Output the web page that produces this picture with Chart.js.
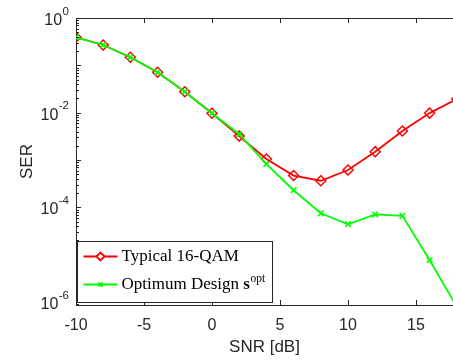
<!DOCTYPE html>
<html>
<head>
<meta charset="utf-8">
<script src="https://cdn.jsdelivr.net/npm/chart.js@4.4.1/dist/chart.umd.min.js"></script>
<style>
  body { margin: 0; background: #fff; }
</style>
</head>
<body>
<canvas id="chart" width="453" height="362"></canvas>
<script>
// values
const snrDb = [-10, -8, -6, -4, -2, 0, 2, 4, 6, 8, 10, 12, 14, 16, 18];
const serTypical = [0.391, 0.269, 0.148, 0.0713, 0.0277, 0.0097, 0.0032, 1.05e-3, 4.7e-4, 3.65e-4, 6.15e-4, 1.5e-3, 4.1e-3, 9.8e-3, 0.0195];
const serOptimum = [0.391, 0.269, 0.148, 0.0713, 0.0277, 0.0097, 0.0035, 8.2e-4, 2.3e-4, 7.5e-5, 4.4e-5, 7.1e-5, 6.6e-5, 7.7e-6, 7.9e-7];
const seriesLabels = ['Typical 16-QAM', 'Optimum Design '];
const xTickValues = [-10, -5, 0, 5, 10, 15];
const yTickExponents = [0, -2, -4, -6];

const axisColor = '#262626';
const sans = '"Liberation Sans", Arial, sans-serif';
const serif = '"Liberation Serif", "DejaVu Serif", serif';
const ctx = document.getElementById('chart').getContext('2d');

const toPoints = ys => snrDb.map((x, i) => ({ x: x, y: ys[i] }));

// inward ticks, top edge, superscript y labels and the boxed legend
const matlabAxes = {
    id: 'matlabAxes',
    afterDraw(chart) {
        const c = chart.ctx;
        const a = chart.chartArea;
        const xs = chart.scales.x;
        const ys = chart.scales.y;
        c.save();
        c.strokeStyle = axisColor;
        c.lineWidth = 1;
        c.beginPath();
        c.moveTo(a.left, a.top + 0.5);
        c.lineTo(a.right, a.top + 0.5);
        xTickValues.forEach(v => {
            const px = Math.round(xs.getPixelForValue(v)) + 0.5;
            c.moveTo(px, a.bottom); c.lineTo(px, a.bottom - 5);
            c.moveTo(px, a.top); c.lineTo(px, a.top + 5);
        });
        for (let e = -7; e <= 0; e++) {
            for (let m = 1; m <= 9; m++) {
                const v = m * Math.pow(10, e);
                if (v < ys.min || v > ys.max) continue;
                const py = Math.round(ys.getPixelForValue(v)) + 0.5;
                c.moveTo(a.left, py); c.lineTo(a.left + (m === 1 ? 5 : 3), py);
            }
        }
        c.stroke();

        // y tick labels 10^e
        c.fillStyle = axisColor;
        const right = a.left - 7;
        yTickExponents.forEach(e => {
            const py = ys.getPixelForValue(Math.pow(10, e));
            const ex = String(e);
            c.font = '11.5px ' + sans;
            const ew = c.measureText(ex).width;
            c.textBaseline = 'middle';
            c.textAlign = 'left';
            c.fillText(ex, right - ew, py - 6.5);
            c.font = '16px ' + sans;
            c.textAlign = 'right';
            c.fillText('10', right - ew - 0.5, py + 2.5);
        });

        // legend
        const bx = a.left + 1.5, bw = 195, bh = 61;
        const by = a.bottom - 3 - bh + 0.5;
        c.fillStyle = '#fff';
        c.fillRect(bx, by, bw, bh);
        c.strokeStyle = axisColor;
        c.strokeRect(bx, by, bw, bh);
        chart.data.datasets.forEach((ds, i) => {
            const ry = by + 15 + i * 28;
            c.strokeStyle = ds.borderColor;
            c.lineWidth = ds.borderWidth;
            c.beginPath();
            c.moveTo(bx + 6, ry); c.lineTo(bx + 40, ry);
            c.stroke();
            Chart.helpers.drawPoint(c, {
                pointStyle: ds.pointStyle, radius: ds.pointRadius - 1, borderWidth: ds.pointBorderWidth, rotation: 0
            }, bx + 23, ry);
            c.fillStyle = '#000';
            c.textAlign = 'left';
            c.textBaseline = 'middle';
            c.font = '17px ' + serif;
            c.fillText(ds.label, bx + 44, ry);
            if (i === 1) {
                let tx = bx + 44 + c.measureText(ds.label).width;
                c.font = 'bold 17px ' + serif;
                c.fillText('s', tx, ry);
                tx += c.measureText('s').width + 0.5;
                c.font = '11.5px ' + serif;
                c.fillText('opt', tx, ry - 6);
            }
        });
        c.restore();
    }
};

new Chart(ctx, {
    type: 'line',
    data: {
        datasets: [
            {
                label: seriesLabels[0],
                data: toPoints(serTypical),
                borderColor: '#ff0000',
                backgroundColor: 'rgba(0,0,0,0)',
                borderWidth: 1.8,
                pointStyle: 'rectRot',
                pointRadius: 5,
                pointBorderWidth: 1.5,
                pointBorderColor: '#ff0000',
                pointBackgroundColor: 'rgba(0,0,0,0)',
                order: 1
            },
            {
                label: seriesLabels[1],
                data: toPoints(serOptimum),
                borderColor: '#00ff00',
                backgroundColor: 'rgba(0,0,0,0)',
                borderWidth: 1.8,
                pointStyle: 'crossRot',
                pointRadius: 4,
                pointBorderWidth: 1.6,
                pointBorderColor: '#00ff00',
                order: 0
            }
        ]
    },
    options: {
        responsive: false,
        animation: false,
        layout: { autoPadding: false, padding: { top: 18, right: 0, left: 0, bottom: 0 } },
        plugins: { legend: { display: false }, tooltip: { enabled: false } },
        scales: {
            x: {
                type: 'linear',
                min: -10,
                max: 17.72,
                afterFit: s => { s.height = 57; s.paddingLeft = 0; s.paddingRight = 0; },
                afterBuildTicks: s => { s.ticks = xTickValues.map(v => ({ value: v })); },
                grid: { drawOnChartArea: false, drawTicks: false },
                border: { color: axisColor, width: 1 },
                ticks: { font: { family: sans, size: 16 }, color: axisColor, padding: 11, maxRotation: 0, callback: v => String(v) },
                title: { display: true, text: 'SNR [dB]', font: { family: sans, size: 17 }, color: axisColor, padding: { top: 0, bottom: 4 } }
            },
            y: {
                type: 'logarithmic',
                min: Math.pow(10, -6.063),
                max: 1,
                afterFit: s => { s.width = 76; },
                afterBuildTicks: s => { s.ticks = yTickExponents.map(e => ({ value: Math.pow(10, e) })); },
                grid: { drawOnChartArea: false, drawTicks: false },
                border: { color: axisColor, width: 1 },
                ticks: { display: false },
                title: { display: true, text: 'SER', font: { family: sans, size: 17 }, color: axisColor, padding: { top: 17, bottom: 0 } }
            }
        }
    },
    plugins: [matlabAxes]
});
</script>
</body>
</html>
